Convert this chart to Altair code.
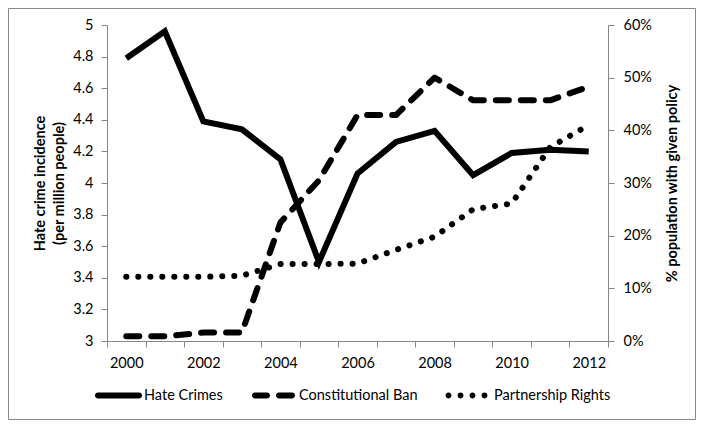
import altair as alt
import pandas as pd

# ---------------- data ----------------
years = list(range(2000, 2013))
hate_crimes = [4.79, 4.96, 4.39, 4.34, 4.15, 3.50, 4.06, 4.26, 4.33, 4.05, 4.19, 4.21, 4.20]
constitutional_ban = [0.9, 0.9, 1.6, 1.6, 22.5, 30.5, 42.9, 42.9, 50.0, 45.7, 45.7, 45.7, 48.3]
partnership_rights = [12.2, 12.2, 12.2, 12.4, 14.6, 14.6, 14.7, 17.3, 19.8, 25.0, 26.1, 36.8, 41.0]
series_names = ["Hate Crimes", "Constitutional Ban", "Partnership Rights"]
left_ticks = [3.0, 3.2, 3.4, 3.6, 3.8, 4.0, 4.2, 4.4, 4.6, 4.8, 5.0]
right_ticks = [0.0, 0.1, 0.2, 0.3, 0.4, 0.5, 0.6]
left_title = ["Hate crime incidence", "(per million people)"]
right_title = "% population with given policy"

# ---------------- tables ----------------
hate_df = pd.DataFrame({"year": years, "value": hate_crimes})
policy_df = pd.DataFrame({
    "year": years + years,
    "pct": [v / 100 for v in constitutional_ban] + [v / 100 for v in partnership_rights],
    "series": [series_names[1]] * len(years) + [series_names[2]] * len(years),
})
legend_df = pd.DataFrame({"series": series_names})
frame_df = pd.DataFrame({"k": [0]})

# ---------------- layout ----------------
W, H = 501, 316
n_cat = len(years)
half_band = W / n_cat / 2
bounds = [y - 0.5 for y in years] + [years[-1] + 0.5]
GREY = "#868686"
FONT = "Lato"

x_enc = alt.X(
    "year:Q",
    scale=alt.Scale(domain=[years[0] - 0.5, years[-1] + 0.5], nice=False, zero=False),
    axis=alt.Axis(
        values=bounds,
        labelExpr="(datum.value + 0.5) % 2 == 0 ? format(datum.value + 0.5, 'd') : ''",
        labelOffset=half_band,
        labelFlush=False,
        labelOverlap=False,
        labelBound=False,
        tickSize=6,
        labelPadding=9,
        title=None,
    ),
)

hate_line = alt.Chart(hate_df).mark_line(
    color="black", strokeWidth=6, strokeJoin="miter"
).encode(
    x=x_enc,
    y=alt.Y(
        "value:Q",
        scale=alt.Scale(domain=[3, 5], nice=False, zero=False),
        axis=alt.Axis(
            orient="left",
            values=left_ticks,
            format="~g",
            tickSize=6,
            labelPadding=8,
            title=left_title,
            titlePadding=6,
            titleLineHeight=19,
        ),
    ),
)

policy_lines = alt.Chart(policy_df).mark_line(
    color="black", strokeCap="round", strokeJoin="round"
).encode(
    x=x_enc,
    y=alt.Y(
        "pct:Q",
        scale=alt.Scale(domain=[0, 0.6], nice=False, zero=False),
        axis=alt.Axis(
            orient="right",
            values=right_ticks,
            format=".0%",
            tickSize=6,
            labelPadding=9,
            title=right_title,
            titleAngle=270,
            titleBaseline="top",
            titlePadding=14,
        ),
    ),
    strokeDash=alt.StrokeDash(
        "series:N",
        scale=alt.Scale(domain=series_names[1:], range=[[13, 12], [0.1, 11.9]]),
        legend=None,
    ),
    strokeWidth=alt.StrokeWidth(
        "series:N",
        scale=alt.Scale(domain=series_names[1:], range=[6, 6]),
        legend=None,
    ),
    detail="series:N",
)


# legend symbols drawn as custom shapes (unit box -1..1)
def bar(a, b, r):
    return (f"M{a + r:.3f},{-r:.3f} L{b - r:.3f},{-r:.3f} "
            f"A{r:.3f},{r:.3f} 0 0 1 {b - r:.3f},{r:.3f} "
            f"L{a + r:.3f},{r:.3f} A{r:.3f},{r:.3f} 0 0 1 {a + r:.3f},{-r:.3f} Z")


def dot(cx, r):
    return (f"M{cx - r:.3f},0 A{r:.3f},{r:.3f} 0 1 0 {cx + r:.3f},0 "
            f"A{r:.3f},{r:.3f} 0 1 0 {cx - r:.3f},0 Z")


solid_path = bar(-1.0, 1.0, 0.125)
dash_path = bar(-0.915, -0.15, 0.125) + " " + bar(0.106, 0.915, 0.125)
dot_path = " ".join(dot(c, 0.125) for c in [-0.85, -0.34, 0.17, 0.68])

legend_layer = alt.Chart(legend_df).mark_point(
    filled=True, color="black", opacity=0, size=2209
).encode(
    x=alt.value(0),
    y=alt.value(0),
    shape=alt.Shape(
        "series:N",
        scale=alt.Scale(domain=series_names, range=[solid_path, dash_path, dot_path]),
        legend=alt.Legend(
            title=None,
            orient="none",
            direction="horizontal",
            legendX=-12,
            legendY=347,
            symbolSize=2209,
            symbolFillColor="black",
            symbolStrokeColor="black",
            symbolStrokeWidth=0,
            symbolOpacity=1,
            labelFont=FONT,
            labelFontSize=14.5,
            labelColor="black",
            labelOffset=2,
            columnPadding=27,
            padding=0,
            labelLimit=300,
        ),
    ),
)

frame = alt.Chart(frame_df).mark_rect(
    fillOpacity=0, stroke=GREY, strokeWidth=1
).encode(
    x=alt.value(-98.5),
    x2=alt.value(588.5),
    y=alt.value(-16.5),
    y2=alt.value(394.5),
)

chart = alt.layer(
    frame, hate_line, policy_lines, legend_layer
).resolve_scale(
    y="independent"
).properties(
    width=W,
    height=H,
    padding={"left": 99, "top": 17, "right": 88, "bottom": 79},
    autosize=alt.AutoSizeParams(type="none"),
).configure_view(
    strokeWidth=0
).configure_axis(
    grid=False,
    domainColor=GREY,
    tickColor=GREY,
    labelFont=FONT,
    labelFontSize=14.5,
    labelColor="black",
    titleFont=FONT,
    titleFontSize=14.5,
    titleFontWeight="bold",
    titleColor="black",
)

chart.save("out.html", embed_options={"renderer": "svg", "actions": False})
